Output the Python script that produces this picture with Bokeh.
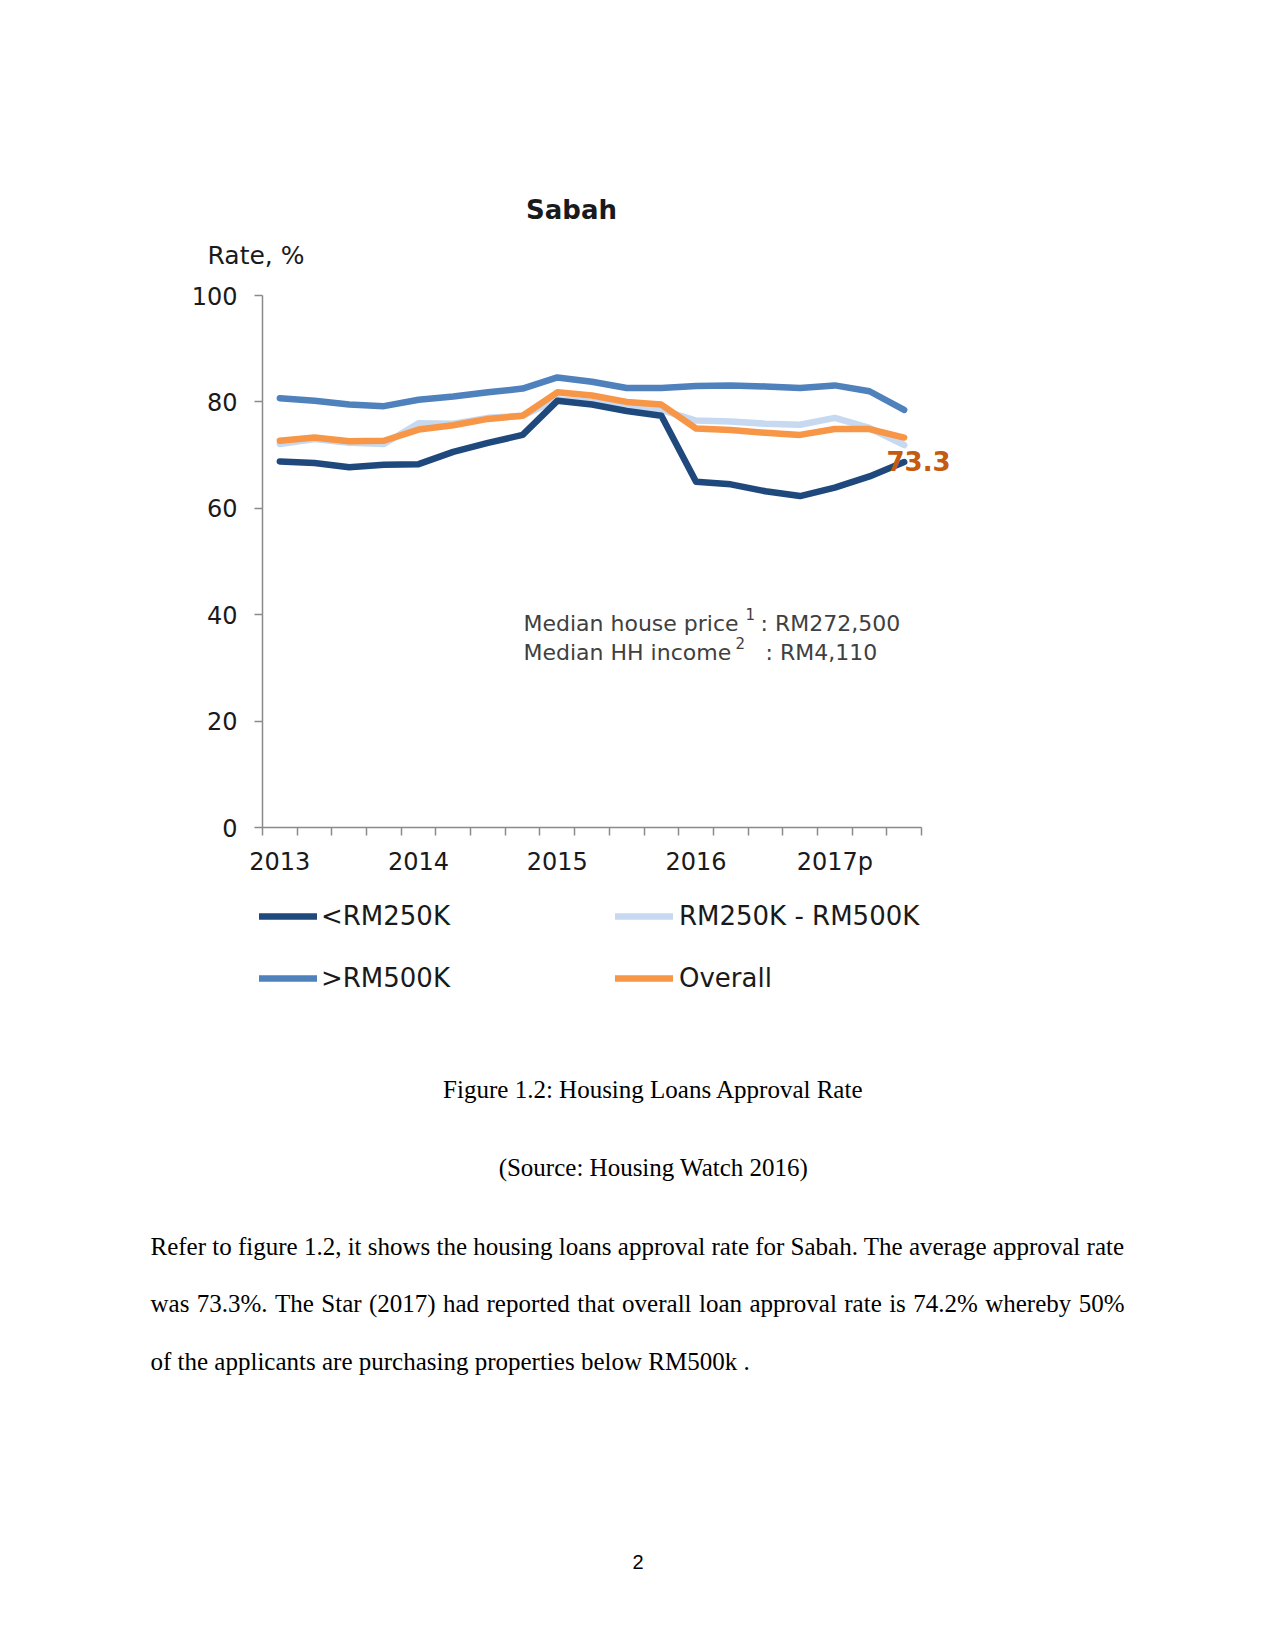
from bokeh.plotting import figure
from bokeh.models import Label, Legend, LegendItem, FixedTicker, Range1d
from bokeh.embed import file_html
from bokeh.resources import INLINE

# ---------------- data ----------------
quarters = ["2013Q1", "2013Q2", "2013Q3", "2013Q4",
            "2014Q1", "2014Q2", "2014Q3", "2014Q4",
            "2015Q1", "2015Q2", "2015Q3", "2015Q4",
            "2016Q1", "2016Q2", "2016Q3", "2016Q4",
            "2017Q1", "2017Q2", "2017Q3"]
year_labels = ["2013", "2014", "2015", "2016", "2017p"]
year_positions = [0, 4, 8, 12, 16]
y_ticks = [0, 20, 40, 60, 80, 100]

below_250k = [68.8, 68.5, 67.7, 68.2, 68.3, 70.6, 72.3, 73.8, 80.2, 79.5,
              78.3, 77.4, 65.0, 64.5, 63.2, 62.3, 63.9, 66.0, 68.7]
mid_250_500k = [72.1, 73.0, 72.3, 72.1, 76.0, 75.9, 77.0, 77.4, 80.5, 80.0,
                79.0, 78.5, 76.5, 76.3, 75.9, 75.7, 77.0, 75.1, 71.9]
above_500k = [80.7, 80.2, 79.5, 79.2, 80.4, 81.0, 81.8, 82.5, 84.6, 83.8,
              82.6, 82.6, 83.0, 83.1, 82.9, 82.6, 83.1, 82.0, 78.5]
overall = [72.7, 73.3, 72.6, 72.7, 74.8, 75.6, 76.8, 77.4, 81.8, 81.2,
           80.0, 79.5, 75.0, 74.7, 74.2, 73.8, 74.9, 74.9, 73.3]
last_overall_label = "73.3"

series_names = ["<RM250K", ">RM500K", "RM250K - RM500K", "Overall"]

caption = "Figure 1.2: Housing Loans Approval Rate"
source = "(Source: Housing Watch 2016)"
paragraph = [
    "Refer to figure 1.2, it shows the housing loans approval rate for Sabah. The average approval rate",
    "was 73.3%. The Star (2017) had reported that overall loan approval rate is 74.2% whereby 50%",
    "of the applicants are purchasing properties below RM500k .",
]
paragraph_justified = [True, True, False]

# ---------------- layout ----------------
W, H = 1275, 1650
FL, FR, FT, FB = 262, 921, 295, 827      # page pixels of the axes box
n = len(quarters)
x = list(range(n))
sx = (FR - FL) / n          # px per category
sy = (FB - FT) / 100.0      # px per percent

p = figure(width=W, height=H, output_backend="svg", toolbar_location=None,
           x_range=Range1d(-0.5 - FL / sx, -0.5 + (W - FL) / sx),
           y_range=Range1d(-(H - FB) / sy, FB / sy),
           min_border=0)
p.outline_line_color = None
p.grid.visible = False
p.background_fill_color = "white"
p.border_fill_color = "white"

AX = "#8a8a8a"
SANS = "DejaVu Sans"

# x axis
p.xaxis.fixed_location = 0
p.xaxis.bounds = (-0.5, n - 0.5)
p.xaxis.ticker = FixedTicker(ticks=year_positions,
                             minor_ticks=[i - 0.5 for i in range(n + 1)])
p.xaxis.major_label_overrides = {pos: lab for pos, lab in zip(year_positions, year_labels)}
p.xaxis.major_tick_out = 0
p.xaxis.major_tick_in = 0
p.xaxis.minor_tick_out = 8
p.xaxis.minor_tick_in = 0
p.xaxis.minor_tick_line_color = AX
p.xaxis.minor_tick_line_width = 1.5
p.xaxis.major_label_standoff = 12

# y axis
p.yaxis.fixed_location = -0.5
p.yaxis.bounds = (0, 100)
p.yaxis.ticker = FixedTicker(ticks=y_ticks, minor_ticks=[])
p.yaxis.major_tick_out = 8
p.yaxis.major_tick_in = 0
p.yaxis.minor_tick_line_color = None
p.yaxis.major_label_standoff = 17

for ax in (p.xaxis, p.yaxis):
    ax.axis_line_color = AX
    ax.axis_line_width = 1.5
    ax.major_tick_line_color = AX
    ax.major_tick_line_width = 1.5
    ax.major_label_text_font = SANS
    ax.major_label_text_font_size = "24px"
    ax.major_label_text_color = "#1a1a1a"

# series
c_below, c_above, c_mid, c_overall = "#1f497d", "#4f81bd", "#c6d9f1", "#f79646"
kw = dict(line_width=6.5, line_cap="round", line_join="round")
r_mid = p.line(x, mid_250_500k, line_color=c_mid, **kw)
r_below = p.line(x, below_250k, line_color=c_below, **kw)
r_above = p.line(x, above_500k, line_color=c_above, **kw)
r_overall = p.line(x, overall, line_color=c_overall, **kw)


def xd(px):
    return -0.5 + (px - FL) / sx


def yd(py):
    return (FB - py) / sy


def lab(text, px, py, size, font=SANS, color="#1a1a1a", align="left",
        style="normal", baseline="middle"):
    p.add_layout(Label(x=xd(px), y=yd(py), text=text, text_font=font,
                       text_font_size=size, text_color=color, text_align=align,
                       text_font_style=style, text_baseline=baseline))


# chart texts
lab("Sabah", 571, 209, "26px", align="center", style="bold")
lab("Rate, %", 207, 255, "25px")
lab(last_overall_label, 886, 460, "26px", color="#c55a11", style="bold")

ANN = "#404040"
lab("Median house price", 523, 623, "22px", color=ANN)
lab("1", 745, 613, "15px", color=ANN)
lab(": RM272,500", 760, 623, "22px", color=ANN)
lab("Median HH income", 523, 652, "22px", color=ANN)
lab("2", 735, 642, "15px", color=ANN)
lab(": RM4,110", 765, 652, "22px", color=ANN)

# legends (location = bottom-left corner, screen px from the frame's bottom-left)
leg_kw = dict(orientation="vertical", glyph_width=58, glyph_height=30,
              label_height=30, spacing=32, padding=0, margin=0,
              border_line_color=None, background_fill_alpha=0,
              label_text_font=SANS, label_text_font_size="26px",
              label_text_color="#1a1a1a")
legend_bottom = H - 993
leg1 = Legend(items=[LegendItem(label=series_names[0], renderers=[r_below]),
                     LegendItem(label=series_names[1], renderers=[r_above])],
              location=(FL - 3, legend_bottom), label_standoff=4, **leg_kw)
leg2 = Legend(items=[LegendItem(label=series_names[2], renderers=[r_mid]),
                     LegendItem(label=series_names[3], renderers=[r_overall])],
              location=(615, legend_bottom), label_standoff=6, **leg_kw)
p.add_layout(leg1)
p.add_layout(leg2)

# document text
SERIF = "Liberation Serif"
FS = 25
# Times-compatible advance widths (per 1000 em) used for justifying lines
TW = {" ": 250, "%": 833, "(": 333, ")": 333, ",": 250, "-": 333, ".": 250, ":": 278}
TW.update({d: 500 for d in "0123456789"})
TW.update(dict(zip("ABCDEFGHIJKLMNOPQRSTUVWXYZ",
                   [722, 667, 667, 722, 611, 556, 722, 722, 333, 389, 722, 611, 889,
                    722, 722, 556, 722, 667, 556, 611, 722, 722, 944, 722, 722, 611])))
TW.update(dict(zip("abcdefghijklmnopqrstuvwxyz",
                   [444, 500, 444, 500, 444, 333, 500, 500, 278, 278, 500, 278, 778,
                    500, 500, 500, 500, 333, 389, 278, 500, 500, 722, 500, 500, 444])))


def tw(s):
    return sum(TW.get(c, 500) for c in s) * FS / 1000.0


lab(caption, 653, 1089, f"{FS}px", font=SERIF, color="black", align="center")
lab(source, 653, 1167, f"{FS}px", font=SERIF, color="black", align="center")
LEFT, RIGHT = 150, 1124
line_y = [1246, 1303, 1361]
for line, py, just in zip(paragraph, line_y, paragraph_justified):
    words = line.split(" ")
    natural = tw(line)
    if just and natural < RIGHT - LEFT and len(words) > 1:
        gap = (RIGHT - LEFT - sum(tw(w) for w in words)) / (len(words) - 1)
        cx = LEFT
        for k, wd in enumerate(words):
            if k == len(words) - 1:
                lab(wd, RIGHT, py, f"{FS}px", font=SERIF, color="black", align="right")
            else:
                lab(wd, cx, py, f"{FS}px", font=SERIF, color="black")
            cx += tw(wd) + gap
    else:
        lab(line, LEFT, py, f"{FS}px", font=SERIF, color="black")
lab("2", 637.5, 1561, "20px", font="Liberation Sans", color="black", align="center")

open("out.html", "w").write(file_html(p, INLINE))
